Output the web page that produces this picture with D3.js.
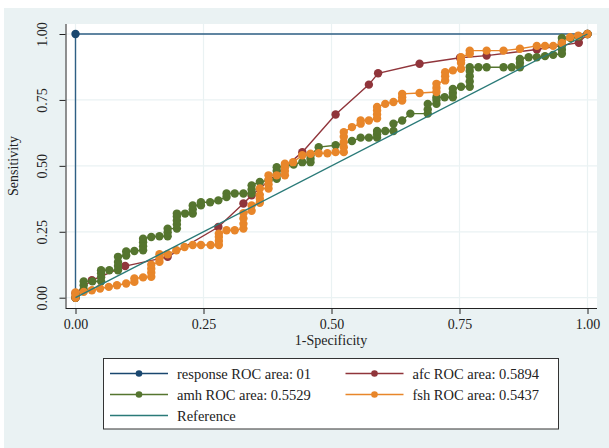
<!DOCTYPE html>
<html>
<head>
<meta charset="utf-8">
<script src="https://cdn.jsdelivr.net/npm/d3@7"></script>
<style>
  body { margin: 0; background: #fff; }
  text { font-family: "Liberation Serif", "Times New Roman", serif; fill: #222; }
</style>
</head>
<body>
<div id="roc"></div>
<script>
// ROC points as [1-specificity, sensitivity]
var responsePts = [[0, 0], [0, 1], [1, 1]];

var afcPts = [[0, 0], [0, 0.017], [0.032, 0.066], [0.097, 0.12], [0.18, 0.155], [0.279, 0.268],
  [0.328, 0.357], [0.344, 0.388], [0.443, 0.552], [0.508, 0.695], [0.573, 0.808], [0.591, 0.851],
  [0.672, 0.887], [0.751, 0.91], [0.803, 0.918], [0.901, 0.941], [0.983, 0.967], [1, 1]];

var amhPts = [[0, 0], [0.016, 0.031], [0.016, 0.047], [0.016, 0.062], [0.033, 0.062],
  [0.05, 0.062], [0.05, 0.078], [0.05, 0.093], [0.05, 0.104], [0.066, 0.104],
  [0.083, 0.104], [0.083, 0.12], [0.083, 0.135], [0.083, 0.155],
  [0.099, 0.16], [0.099, 0.175], [0.115, 0.177],
  [0.132, 0.18], [0.132, 0.195], [0.132, 0.21], [0.132, 0.224],
  [0.148, 0.23], [0.164, 0.233], [0.18, 0.233], [0.18, 0.248], [0.18, 0.262],
  [0.198, 0.262], [0.198, 0.278], [0.198, 0.293], [0.198, 0.308], [0.198, 0.319],
  [0.214, 0.319], [0.229, 0.319], [0.229, 0.335], [0.229, 0.35],
  [0.245, 0.35], [0.245, 0.362], [0.263, 0.362], [0.279, 0.369],
  [0.295, 0.382], [0.295, 0.395], [0.311, 0.395], [0.328, 0.395],
  [0.344, 0.395], [0.344, 0.41], [0.344, 0.426], [0.36, 0.439], [0.377, 0.445],
  [0.393, 0.451], [0.393, 0.466], [0.393, 0.481], [0.393, 0.495],
  [0.41, 0.5], [0.426, 0.505], [0.443, 0.514],
  [0.459, 0.514], [0.459, 0.527], [0.459, 0.54],
  [0.475, 0.571], [0.508, 0.578], [0.54, 0.594], [0.557, 0.607], [0.573, 0.607],
  [0.589, 0.607], [0.589, 0.62], [0.589, 0.632], [0.605, 0.632], [0.621, 0.632],
  [0.621, 0.66], [0.638, 0.672], [0.654, 0.698],
  [0.688, 0.698], [0.688, 0.714], [0.688, 0.735],
  [0.705, 0.735], [0.705, 0.75], [0.705, 0.76], [0.721, 0.76],
  [0.737, 0.76], [0.737, 0.776], [0.737, 0.792], [0.753, 0.8],
  [0.77, 0.8], [0.77, 0.82], [0.77, 0.84], [0.77, 0.86], [0.77, 0.874],
  [0.787, 0.874], [0.803, 0.874], [0.836, 0.874], [0.852, 0.874], [0.868, 0.874],
  [0.868, 0.89], [0.868, 0.905], [0.885, 0.912], [0.901, 0.912], [0.917, 0.916],
  [0.933, 0.921], [0.95, 0.925], [0.95, 0.94], [0.95, 0.955], [0.95, 0.97], [0.95, 0.985],
  [0.967, 0.985], [0.983, 0.99], [1, 1]];

var fshPts = [[0, 0], [0, 0.01], [0, 0.02], [0.016, 0.022], [0.032, 0.028], [0.048, 0.035],
  [0.065, 0.041], [0.081, 0.047], [0.099, 0.054], [0.115, 0.06], [0.115, 0.073], [0.132, 0.077],
  [0.148, 0.079], [0.148, 0.095], [0.148, 0.11], [0.148, 0.125],
  [0.164, 0.136], [0.164, 0.15], [0.164, 0.165], [0.18, 0.165], [0.197, 0.18], [0.213, 0.192],
  [0.229, 0.2], [0.245, 0.2], [0.264, 0.2], [0.28, 0.2], [0.28, 0.215], [0.28, 0.23], [0.28, 0.243],
  [0.295, 0.256], [0.311, 0.256], [0.328, 0.262], [0.328, 0.28], [0.328, 0.3], [0.328, 0.32],
  [0.344, 0.33], [0.344, 0.35], [0.36, 0.36], [0.36, 0.375], [0.36, 0.39], [0.36, 0.414],
  [0.377, 0.414], [0.377, 0.43], [0.377, 0.447], [0.377, 0.464], [0.393, 0.464],
  [0.409, 0.464], [0.409, 0.48], [0.409, 0.495], [0.409, 0.508], [0.425, 0.514],
  [0.443, 0.54], [0.459, 0.546], [0.475, 0.548], [0.492, 0.548], [0.508, 0.552], [0.524, 0.552],
  [0.524, 0.571], [0.524, 0.59], [0.524, 0.61], [0.524, 0.628], [0.54, 0.647],
  [0.557, 0.66], [0.557, 0.672], [0.573, 0.672], [0.589, 0.68], [0.589, 0.695], [0.589, 0.71],
  [0.589, 0.723], [0.605, 0.735], [0.621, 0.742], [0.638, 0.748], [0.638, 0.76], [0.638, 0.773],
  [0.672, 0.776], [0.705, 0.78], [0.705, 0.795], [0.705, 0.811],
  [0.722, 0.824], [0.722, 0.84], [0.722, 0.855], [0.737, 0.862], [0.753, 0.868],
  [0.753, 0.89], [0.753, 0.9], [0.753, 0.912], [0.77, 0.925], [0.77, 0.937],
  [0.803, 0.937], [0.836, 0.937], [0.868, 0.944], [0.901, 0.955], [0.917, 0.955], [0.933, 0.955],
  [0.95, 0.966], [0.966, 0.988], [0.982, 0.994], [1, 1]];

var refPts = [[0, 0], [1, 1]];

var tickVals = [0, 0.25, 0.5, 0.75, 1];
var legendLabels = ["response ROC area: 01", "afc ROC area: 0.5894", "amh ROC area: 0.5529",
  "fsh ROC area: 0.5437", "Reference"];

var width = 609, height = 448;
var colors = { response: "#1a476f", afc: "#90353b", amh: "#55752f", fsh: "#e8862a", ref: "#2a7a78" };

var svg = d3.select("#roc").append("svg")
  .attr("width", width)
  .attr("height", height);

// outer graph region
svg.append("rect").attr("x", 4).attr("y", 8).attr("width", width - 4).attr("height", height - 8)
  .attr("fill", "#eaf2f3");
// plot region
svg.append("rect").attr("x", 65.5).attr("y", 24).attr("width", 531.5).attr("height", 284)
  .attr("fill", "#fff");

var x = d3.scaleLinear().domain([0, 1]).range([75.5, 587.5]);
var y = d3.scaleLinear().domain([0, 1]).range([297.7, 34]);

// grid lines
var grid = svg.append("g");
grid.selectAll(".gx").data(tickVals).enter().append("line")
  .attr("x1", d => x(d)).attr("x2", d => x(d)).attr("y1", 24).attr("y2", 308)
  .attr("stroke", "#eaf2f3").attr("stroke-width", 1.2);
grid.selectAll(".gy").data(tickVals).enter().append("line")
  .attr("y1", d => y(d)).attr("y2", d => y(d)).attr("x1", 65.5).attr("x2", 597)
  .attr("stroke", "#eaf2f3").attr("stroke-width", 1.2);

// axes
var xAxis = svg.append("g").attr("transform", "translate(0,308)")
  .call(d3.axisBottom(x).tickValues(tickVals).tickFormat(d3.format(".2f")).tickSize(6).tickSizeOuter(0));
var yAxis = svg.append("g").attr("transform", "translate(65.5,0)")
  .call(d3.axisLeft(y).tickValues(tickVals).tickFormat(d3.format(".2f")).tickSize(6).tickSizeOuter(0));

xAxis.select(".domain").attr("d", "M65.5,0.5H597");
yAxis.select(".domain").attr("d", "M0.5,24V308");
[xAxis, yAxis].forEach(function(a) {
  a.selectAll("path, line").attr("stroke", "#222");
  a.selectAll("text").style("font-size", "14px").style("font-family", "Liberation Serif, serif")
    .attr("fill", "#222");
});
xAxis.selectAll("text").attr("dy", "0.95em").attr("y", 8);
// tick labels on the y axis read bottom to top
yAxis.selectAll(".tick text")
  .attr("x", 0).attr("y", 0).attr("dy", "0.35em")
  .attr("text-anchor", "middle")
  .attr("transform", "translate(-23,0) rotate(-90)");

svg.append("text").attr("x", 331).attr("y", 345).attr("text-anchor", "middle")
  .style("font-size", "14px").text("1-Specificity");
svg.append("text").attr("transform", "translate(18,166) rotate(-90)").attr("text-anchor", "middle")
  .style("font-size", "14px").text("Sensitivity");

// curves
var line = d3.line().x(d => x(d[0])).y(d => y(d[1]));

function drawCurve(pts, color, lineColor, r) {
  var g = svg.append("g");
  g.append("path").datum(pts).attr("d", line).attr("fill", "none")
    .attr("stroke", lineColor).attr("stroke-width", 1.4);
  if (r > 0) {
    g.selectAll("circle").data(pts).enter().append("circle")
      .attr("cx", d => x(d[0])).attr("cy", d => y(d[1])).attr("r", r)
      .attr("fill", color);
  }
}

drawCurve(responsePts, colors.response, "#2f5f84", 4.2);
drawCurve(afcPts, colors.afc, colors.afc, 4.2);
drawCurve(amhPts, colors.amh, colors.amh, 4.2);
drawCurve(fshPts, colors.fsh, colors.fsh, 4.2);
drawCurve(refPts, colors.ref, colors.ref, 0);

// legend
var legend = svg.append("g");
legend.append("rect").attr("x", 103.5).attr("y", 358.5).attr("width", 455).attr("height", 70.5)
  .attr("fill", "#fff").attr("stroke", "#333").attr("stroke-width", 1);

var legendItems = [
  { label: legendLabels[0], color: colors.response, col: 0, row: 0, dot: true },
  { label: legendLabels[1], color: colors.afc, col: 1, row: 0, dot: true },
  { label: legendLabels[2], color: colors.amh, col: 0, row: 1, dot: true },
  { label: legendLabels[3], color: colors.fsh, col: 1, row: 1, dot: true },
  { label: legendLabels[4], color: colors.ref, col: 0, row: 2, dot: false }
];
var colX = [110, 345.5], rowY = [373.5, 394.5, 415.5];

var item = legend.selectAll(".item").data(legendItems).enter().append("g")
  .attr("transform", d => "translate(" + colX[d.col] + "," + rowY[d.row] + ")");
item.append("line").attr("x1", 0).attr("x2", 58).attr("y1", 0).attr("y2", 0)
  .attr("stroke", d => d.color).attr("stroke-width", 1.4);
item.filter(d => d.dot).append("circle").attr("cx", 29).attr("cy", 0).attr("r", 3.3)
  .attr("fill", d => d.color);
item.append("text").attr("x", 67).attr("y", 0).attr("dy", "0.35em")
  .style("font-size", "14.5px").text(d => d.label);
</script>
</body>
</html>
